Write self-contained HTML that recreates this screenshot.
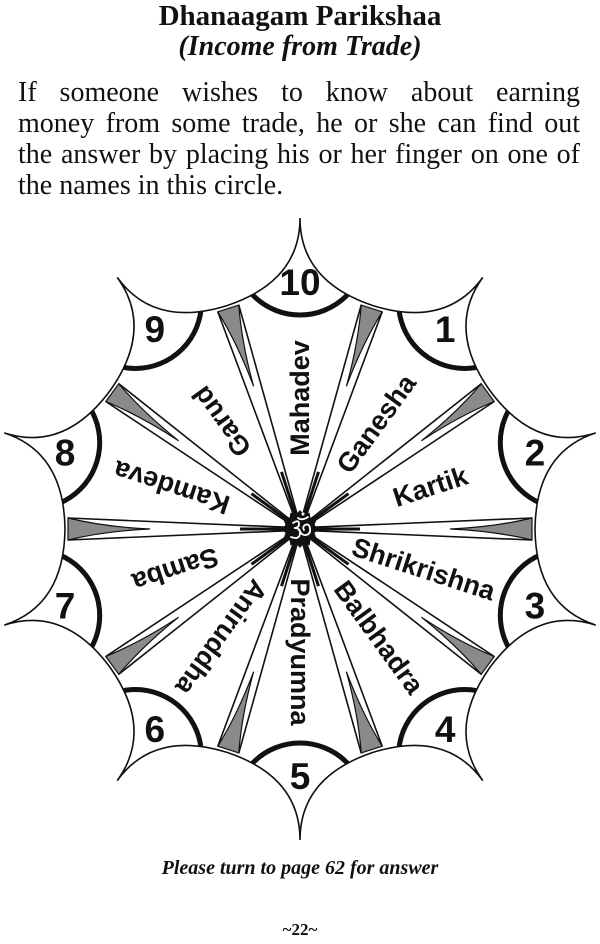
<!DOCTYPE html>
<html><head><meta charset="utf-8">
<style>
html,body{margin:0;padding:0;background:#fff;}
body{width:600px;height:944px;position:relative;overflow:hidden;font-family:"Liberation Serif",serif;color:#111;}
.t1{position:absolute;top:0px;left:0;width:600px;text-align:center;font-weight:bold;font-size:29px;}
.t2{position:absolute;top:31px;left:0;width:600px;text-align:center;font-weight:bold;font-style:italic;font-size:28px;}
.p{position:absolute;left:18px;width:562px;font-size:28px;white-space:nowrap;text-align:justify;text-align-last:justify;}
.b1{position:absolute;top:857px;left:0;width:600px;text-align:center;font-weight:bold;font-style:italic;font-size:20px;}
.b2{position:absolute;top:920px;left:0;width:600px;text-align:center;font-weight:bold;font-size:17px;}
svg{position:absolute;left:0;top:0;}
</style></head><body>
<div class="t1">Dhanaagam Parikshaa</div>
<div class="t2">(Income from Trade)</div>
<div class="p" style="top:77px">If someone wishes to know about earning</div>
<div class="p" style="top:108px">money from some trade, he or she can find out</div>
<div class="p" style="top:139px">the answer by placing his or her finger on one of</div>
<div class="p" style="top:170px;text-align-last:left">the names in this circle.</div>
<svg id="s" width="600" height="944" viewBox="0 0 600 944"></svg>
<div class="b1">Please turn to page 62 for answer</div>
<div class="b2">~22~</div>
<script>
(function(){
var cx=300,cy=529,R=311;
function P(r,a){a=a*Math.PI/180;return [cx+r*Math.cos(a),cy-r*Math.sin(a)];}
function f(p){return p[0].toFixed(1)+' '+p[1].toFixed(1);}
var d='M'+f(P(R,90));
for(var k=0;k<10;k++){
 var t=90-36*k,t2=t-36,v=t-18;
 d+=' Q'+f(P(248,t))+' '+f(P(235,v))+' Q'+f(P(248,t2))+' '+f(P(R,t2));
}
d+='Z';
var s='';
s+='<defs><clipPath id="c"><path d="'+d+'"/></clipPath></defs>';
s+='<path d="'+d+'" fill="#fff" stroke="#111" stroke-width="1.6"/>';
var nums=['10','1','2','3','4','5','6','7','8','9'];
for(var k=0;k<10;k++){
 var t=90-36*k,c=P(280,t);
 s+='<circle cx="'+c[0]+'" cy="'+c[1]+'" r="66" fill="none" stroke="#111" stroke-width="5" clip-path="url(#c)"/>';
 var n=P(247,t);
 s+='<text x="'+n[0]+'" y="'+(n[1]+13)+'" text-anchor="middle" font-family="Liberation Sans,Arial,sans-serif" font-weight="bold" font-size="37" fill="#111">'+nums[k]+'</text>';
}
for(var k=0;k<10;k++){
 var a=72-36*k,ar=a*Math.PI/180;
 var ux=Math.cos(ar),uy=-Math.sin(ar),px=-uy,py=ux;
 function L(r,o){return [cx+ux*r+px*o,cy+uy*r+py*o];}
 var A=L(232,11),B=L(232,-11),T=L(150,0),C1=L(195,2),C2=L(195,-2);
 s+='<path d="M'+f(A)+' Q'+f(C1)+' '+f(T)+' Q'+f(C2)+' '+f(B)+'Z" fill="#8a8a8a" stroke="#111" stroke-width="1.2"/>';
 s+='<path d="M'+f(A)+' L'+f(L(14,1.8))+' M'+f(B)+' L'+f(L(14,-1.8))+'" stroke="#111" stroke-width="1.6" fill="none"/>';
 s+='<path d="M'+f(L(14,0))+' L'+f(L(60,0))+'" stroke="#111" stroke-width="3"/>';
}
var names=[['Mahadev',90,131],['Ganesha',54,130],['Kartik',18,137],['Shrikrishna',-18,130],['Balbhadra',-54,134],['Pradyumna',-90,123],['Aniruddha',-126,134],['Samba',-162,131],['Kamdeva',162,135],['Garud',126,133]];
names.forEach(function(n){
 var p=P(n[2],n[1]);
 s+='<text x="0" y="0" transform="translate('+p[0].toFixed(1)+' '+p[1].toFixed(1)+') rotate('+(-n[1])+')" text-anchor="middle" dominant-baseline="central" font-family="Liberation Sans,Arial,sans-serif" font-weight="bold" font-size="27" fill="#111">'+n[0]+'</text>';
});
var sp='';
for(var i=0;i<24;i++){var a=i*15,r=(i%2)?15:19;var q=P(r,a);sp+=(i?'L':'M')+f(q);}
s+='<path d="'+sp+'Z" fill="#111"/><circle cx="'+cx+'" cy="'+cy+'" r="15" fill="#111"/>';
s+='<g fill="none" stroke="#fff" stroke-width="1.8" stroke-linecap="round">'+
 '<path d="M293 523 q6-4 6 1 q0 4-5 4 q7 0 6 6 q-1 6-9 3"/>'+
 '<path d="M299 530 q3 6 7 5 q5-1 4-7 q-1-5-5-3 q-3 2-1 5"/>'+
 '<path d="M298 518 q4 3 10 -1"/></g>'+
 '<circle cx="303" cy="514" r="1.5" fill="#fff"/>';
document.getElementById('s').innerHTML=s;
})();
</script>
</body></html>
